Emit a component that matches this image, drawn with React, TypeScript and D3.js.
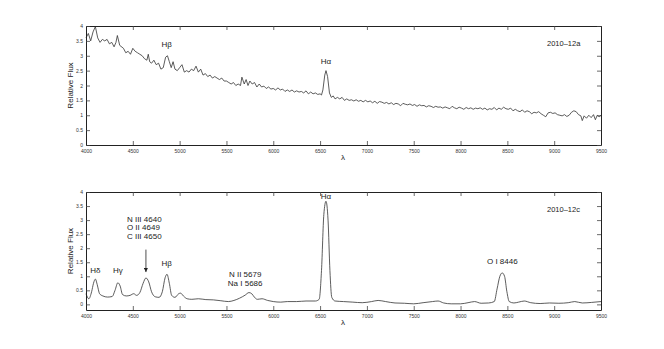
import * as React from "react";
import * as d3 from "d3";

// spectrum 2010-12a: [wavelength, relative flux]
const specA: [number, number][] = [
  [4000, 3.6], [4025, 3.75], [4050, 3.5], [4075, 3.8], [4100, 3.98], [4125, 3.6], [4150, 3.45], [4175, 3.55],
  [4200, 3.5], [4225, 3.55], [4250, 3.4], [4275, 3.45], [4300, 3.3], [4320, 3.45], [4335, 3.68], [4360, 3.35],
  [4400, 3.25], [4425, 3.1], [4450, 3.15], [4475, 3.05], [4500, 3.25], [4525, 3.15], [4550, 3.1], [4575, 3.05],
  [4600, 3.0], [4625, 2.9], [4650, 2.85], [4665, 3.05], [4680, 2.8], [4700, 2.75], [4725, 2.85], [4750, 2.7],
  [4775, 2.75], [4800, 2.55], [4825, 2.6], [4850, 2.95], [4870, 3.0], [4890, 2.8], [4910, 2.6], [4930, 2.8],
  [4950, 2.55], [4975, 2.5], [5000, 2.6], [5025, 2.7], [5050, 2.45], [5075, 2.5], [5100, 2.45], [5125, 2.55],
  [5150, 2.5], [5175, 2.65], [5200, 2.45], [5225, 2.55], [5250, 2.35], [5275, 2.4], [5300, 2.3], [5325, 2.35],
  [5350, 2.25], [5375, 2.3], [5400, 2.25], [5425, 2.2], [5450, 2.25], [5475, 2.15], [5500, 2.15], [5525, 2.1],
  [5550, 2.05], [5575, 2.1], [5600, 2.0], [5625, 2.05], [5650, 2.0], [5665, 2.28], [5690, 2.05], [5710, 2.2],
  [5730, 2.0], [5750, 2.15], [5775, 2.05], [5800, 2.1], [5825, 1.95], [5850, 2.05], [5875, 1.95], [5900, 1.98],
  [5925, 1.9], [5950, 1.95], [5975, 1.88], [6000, 1.9], [6025, 1.85], [6050, 1.92], [6075, 1.85], [6100, 1.88],
  [6125, 1.8], [6150, 1.85], [6175, 1.8], [6200, 1.85], [6225, 1.78], [6250, 1.82], [6275, 1.78], [6300, 1.8],
  [6325, 1.75], [6350, 1.82], [6375, 1.72], [6400, 1.78], [6425, 1.72], [6450, 1.75], [6475, 1.7], [6500, 1.72],
  [6515, 1.68], [6530, 1.85], [6550, 2.35], [6563, 2.5], [6580, 2.3], [6600, 1.75], [6620, 1.6], [6640, 1.65],
  [6660, 1.55], [6685, 1.6], [6710, 1.55], [6735, 1.6], [6760, 1.5], [6785, 1.55], [6810, 1.5], [6835, 1.52],
  [6860, 1.48], [6885, 1.52], [6910, 1.47], [6935, 1.5], [6960, 1.45], [6985, 1.5], [7010, 1.45], [7035, 1.48],
  [7060, 1.42], [7085, 1.47], [7110, 1.4], [7135, 1.46], [7160, 1.44], [7185, 1.4], [7210, 1.43], [7235, 1.38],
  [7260, 1.42], [7285, 1.36], [7310, 1.4], [7335, 1.38], [7360, 1.32], [7385, 1.4], [7410, 1.37], [7435, 1.35],
  [7460, 1.38], [7485, 1.33], [7510, 1.36], [7535, 1.3], [7560, 1.35], [7585, 1.32], [7610, 1.33], [7635, 1.28],
  [7660, 1.32], [7685, 1.3], [7710, 1.26], [7735, 1.3], [7760, 1.27], [7785, 1.28], [7810, 1.24], [7835, 1.28],
  [7860, 1.25], [7885, 1.22], [7910, 1.3], [7935, 1.25], [7960, 1.22], [7985, 1.27], [8010, 1.24], [8035, 1.2],
  [8060, 1.26], [8085, 1.22], [8110, 1.25], [8135, 1.2], [8160, 1.24], [8185, 1.22], [8210, 1.25], [8235, 1.2],
  [8260, 1.24], [8285, 1.18], [8310, 1.22], [8335, 1.2], [8360, 1.26], [8385, 1.18], [8410, 1.24], [8435, 1.2],
  [8460, 1.27], [8485, 1.22], [8510, 1.2], [8535, 1.24], [8560, 1.15], [8585, 1.2], [8610, 1.15], [8635, 1.12],
  [8660, 1.18], [8685, 1.1], [8710, 1.15], [8735, 1.12], [8760, 1.05], [8785, 1.1], [8810, 1.08], [8835, 1.12],
  [8860, 1.05], [8885, 1.0], [8910, 0.95], [8935, 1.08], [8960, 1.1], [8985, 1.06], [9010, 1.08], [9035, 1.02],
  [9060, 1.0], [9085, 0.98], [9110, 1.02], [9135, 0.96], [9160, 1.0], [9185, 1.1], [9210, 1.15], [9235, 1.12],
  [9260, 1.02], [9285, 0.98], [9300, 0.82], [9320, 0.98], [9345, 0.9], [9370, 1.0], [9395, 0.92], [9420, 1.02],
  [9440, 0.85], [9460, 1.0], [9480, 0.95], [9500, 1.0],
];

// spectrum 2010-12c: [wavelength, relative flux]
const specC: [number, number][] = [
  [4000, 0.38], [4030, 0.2], [4060, 0.45], [4080, 0.75], [4100, 0.9], [4120, 0.7], [4145, 0.38], [4180, 0.3],
  [4230, 0.26], [4280, 0.28], [4310, 0.5], [4340, 0.77], [4365, 0.65], [4390, 0.35], [4430, 0.3], [4470, 0.32],
  [4510, 0.38], [4540, 0.32], [4575, 0.42], [4610, 0.75], [4640, 0.94], [4670, 0.8], [4700, 0.45], [4740, 0.27],
  [4780, 0.25], [4815, 0.45], [4845, 0.95], [4865, 1.07], [4890, 0.75], [4915, 0.32], [4950, 0.25], [4990, 0.38],
  [5010, 0.4], [5040, 0.3], [5080, 0.2], [5130, 0.18], [5200, 0.2], [5280, 0.17], [5360, 0.16], [5440, 0.13],
  [5520, 0.1], [5580, 0.14], [5640, 0.22], [5700, 0.33], [5740, 0.42], [5770, 0.38], [5800, 0.25], [5830, 0.18],
  [5880, 0.2], [5940, 0.14], [6000, 0.1], [6080, 0.08], [6150, 0.1], [6250, 0.1], [6350, 0.12], [6450, 0.12],
  [6490, 0.18], [6515, 1.2], [6540, 3.2], [6563, 3.67], [6585, 3.0], [6605, 1.2], [6625, 0.25], [6660, 0.12],
  [6750, 0.1], [6850, 0.08], [6950, 0.06], [7050, 0.1], [7120, 0.14], [7200, 0.1], [7300, 0.05], [7400, 0.04],
  [7500, 0.02], [7600, 0.06], [7700, 0.1], [7760, 0.12], [7820, 0.05], [7900, 0.02], [8000, 0.02], [8080, 0.06],
  [8150, 0.1], [8220, 0.04], [8300, 0.05], [8360, 0.1], [8390, 0.55], [8420, 1.0], [8445, 1.12], [8470, 1.0],
  [8495, 0.45], [8520, 0.1], [8570, 0.05], [8620, 0.08], [8680, 0.12], [8750, 0.06], [8850, 0.03], [8950, 0.05],
  [9050, 0.04], [9150, 0.06], [9220, 0.1], [9300, 0.05], [9400, 0.07], [9500, 0.1],
];

const xTicks = [4000, 4500, 5000, 5500, 6000, 6500, 7000, 7500, 8000, 8500, 9000, 9500];
const yTicks = [0, 0.5, 1, 1.5, 2, 2.5, 3, 3.5, 4];

const FONT = "'Liberation Sans', Arial, sans-serif";

type Label = { text: string[]; wl: number; flux: number };

const labelsA: Label[] = [
  { text: ["Hβ"], wl: 4861, flux: 3.3 },
  { text: ["Hα"], wl: 6563, flux: 2.72 },
];

const labelsC: Label[] = [
  { text: ["Hδ"], wl: 4101, flux: 1.12 },
  { text: ["Hγ"], wl: 4340, flux: 1.1 },
  { text: ["Hβ"], wl: 4861, flux: 1.35 },
  { text: ["N II 5679", "Na I 5686"], wl: 5700, flux: 0.97 },
  { text: ["Hα"], wl: 6563, flux: 3.75 },
  { text: ["O I 8446"], wl: 8446, flux: 1.43 },
];

const Axes = ({ x, y }: { x: d3.ScaleLinear<number, number>; y: d3.ScaleLinear<number, number> }) => {
  const bottom = React.useRef<SVGGElement>(null);
  const top = React.useRef<SVGGElement>(null);
  const left = React.useRef<SVGGElement>(null);
  const right = React.useRef<SVGGElement>(null);

  React.useEffect(() => {
    const [y0, y1] = y.range();
    const [x0, x1] = x.range();
    d3.select(bottom.current)
      .attr("transform", `translate(0,${y0})`)
      .call(
        d3.axisBottom(x).tickValues(xTicks).tickSizeInner(-4).tickSizeOuter(0).tickPadding(4).tickFormat(d3.format("d"))
      );
    d3.select(top.current)
      .attr("transform", `translate(0,${y1})`)
      .call(d3.axisTop(x).tickValues(xTicks).tickSizeInner(-4).tickSizeOuter(0).tickFormat(() => ""));
    d3.select(left.current)
      .attr("transform", `translate(${x0},0)`)
      .call(d3.axisLeft(y).tickValues(yTicks).tickSizeInner(-4).tickSizeOuter(0).tickPadding(3).tickFormat(d3.format("")));
    d3.select(right.current)
      .attr("transform", `translate(${x1},0)`)
      .call(d3.axisRight(y).tickValues(yTicks).tickSizeInner(-4).tickSizeOuter(0).tickFormat(() => ""));
    for (const r of [bottom, top, left, right]) {
      const g = d3.select(r.current);
      g.select(".domain").attr("stroke", "#222").attr("stroke-width", 1);
      g.selectAll(".tick line").attr("stroke", "#444").attr("stroke-width", 0.8);
      g.selectAll("text").attr("font-size", 5).attr("font-family", FONT).attr("fill", "#333");
    }
  }, [x, y]);

  return (
    <g>
      <g ref={bottom} />
      <g ref={top} />
      <g ref={left} />
      <g ref={right} />
    </g>
  );
};

const Panel = (props: {
  data: [number, number][];
  top: number;
  bottom: number;
  yMin: number;
  curve: d3.CurveFactory;
  title: string;
  labels: Label[];
  children?: (x: d3.ScaleLinear<number, number>, y: d3.ScaleLinear<number, number>) => React.ReactNode;
}) => {
  const x = React.useMemo(() => d3.scaleLinear().domain([4000, 9500]).range([86, 601]), []);
  const y = React.useMemo(
    () => d3.scaleLinear().domain([props.yMin, 4]).range([props.bottom, props.top]),
    [props.yMin, props.bottom, props.top]
  );
  const line = d3
    .line<[number, number]>()
    .x((d) => x(d[0]))
    .y((d) => y(d[1]))
    .curve(props.curve);

  return (
    <g>
      <path d={line(props.data) || ""} fill="none" stroke="#333" strokeWidth={0.8} />
      <Axes x={x} y={y} />
      <text
        transform={`translate(73,${(props.top + props.bottom) / 2}) rotate(-90)`}
        textAnchor="middle"
        fontSize={8}
        fontFamily={FONT}
        fill="#222"
      >
        Relative Flux
      </text>
      <text x={343} y={props.bottom + 15} textAnchor="middle" fontSize={8} fontFamily={FONT} fill="#222">
        λ
      </text>
      <text x={547} y={props.top + 20} fontSize={7.5} fontFamily={FONT} fill="#222">
        {props.title}
      </text>
      {props.labels.map((l, i) => (
        <text key={i} x={x(l.wl)} y={y(l.flux)} textAnchor="middle" fontSize={8} fontFamily={FONT} fill="#222">
          {l.text.map((t, j) => (
            <tspan key={j} x={x(l.wl)} dy={j === 0 ? 0 : 9}>
              {t}
            </tspan>
          ))}
        </text>
      ))}
      {props.children && props.children(x, y)}
    </g>
  );
};

export default function App() {
  return (
    <svg width={664} height={349} style={{ position: "absolute", left: 0, top: 0, background: "#fff" }}>
      <defs>
        <marker id="arrow" viewBox="0 0 10 10" refX={10} refY={5} markerWidth={5} markerHeight={5} orient="auto">
          <path d="M0,0 L10,5 L0,10 z" fill="#222" />
        </marker>
      </defs>
      <Panel data={specA} top={26} bottom={145} yMin={0} curve={d3.curveLinear} title="2010‒12a" labels={labelsA} />
      <Panel
        data={specC}
        top={192}
        bottom={310}
        yMin={-0.2}
        curve={d3.curveMonotoneX}
        title="2010‒12c"
        labels={labelsC}
      >
        {(x, y) => (
          <g>
            <text x={x(4640) - 19} y={y(2.95)} fontSize={8} fontFamily={FONT} fill="#222">
              {["N III 4640", "O II 4649", "C III 4650"].map((t, j) => (
                <tspan key={j} x={x(4640) - 19} dy={j === 0 ? 0 : 8.8}>
                  {t}
                </tspan>
              ))}
            </text>
            <line
              x1={x(4640)}
              x2={x(4640)}
              y1={y(1.95)}
              y2={y(1.15)}
              stroke="#222"
              strokeWidth={0.8}
              markerEnd="url(#arrow)"
            />
          </g>
        )}
      </Panel>
    </svg>
  );
}
